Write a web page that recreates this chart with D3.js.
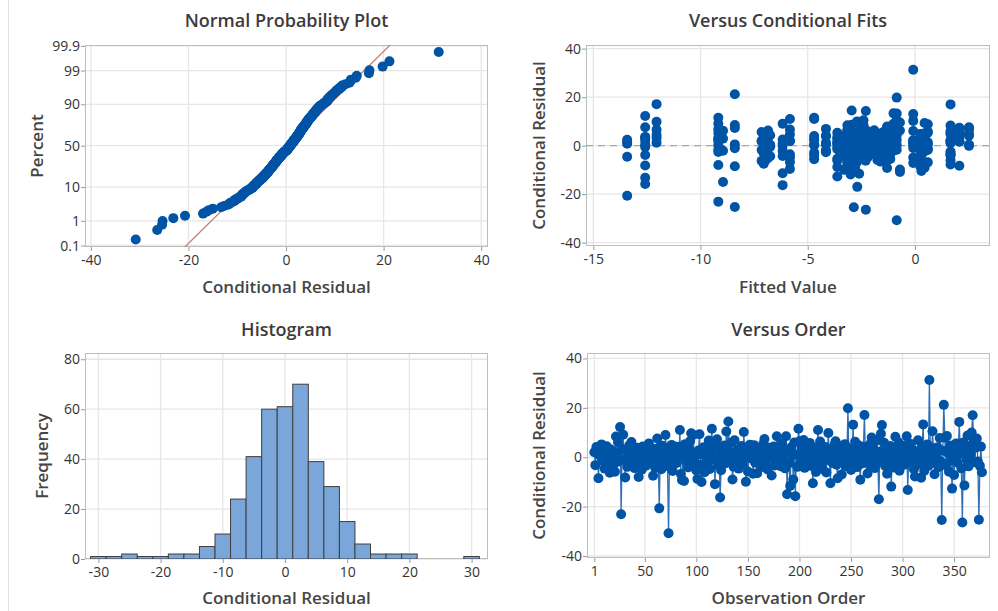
<!DOCTYPE html>
<html>
<head>
<meta charset="utf-8">
<script src="https://cdn.jsdelivr.net/npm/d3@7"></script>
<style>
  body { margin: 0; background: #fff; }
  text { font-family: "Open Sans", "Noto Sans", sans-serif; }
</style>
</head>
<body>
<div id="chart"></div>
<script>
/************************** DATA **************************/

// conditional residuals, in observation order (1..377)
var residuals = [
  2.0, -3.2, 4.1, 1.5, -8.5, 0.8, 3.6, 5.2, -1.4, 2.9, -4.6, 0.3, 4.4, -2.1, 1.9, -6.3, 3.1, -0.6, 2.4, -2.8,
  -5.9, 8.4, 1.2, 6.1, -1.7, 12.2, -23.1, 3.3, 9.1, -0.9, -8.2, 2.6, -3.9, 0.5, 4.8, -2.4, 6.2, -1.1, 2.2, -4.4,
  1.7, -2.6, 3.8, -8.0, 0.2, 2.7, -5.1, 4.3, -1.8, 1.1, -3.4, 3.0, -0.4, 5.6, -2.2, 0.9, 2.5, -7.5, 1.4, -4.3,
  3.4, 7.6, -1.3, -20.7, 2.1, -4.9, 4.6, 0.6, -2.7, 9.0, 1.8, -3.6, -30.8, 2.8, -0.2, 5.0, -5.6, 1.3, -1.9, 3.9,
  -2.3, 4.2, 0.4, 11.0, -6.8, -9.2, 2.3, -9.6, 5.3, -1.5, 0.1, -4.1, 3.2, 6.6, 9.7, -2.9, 9.0, -0.7, 1.6, -5.4,
  -8.8, 2.7, 9.3, -3.0, -10.0, 1.0, 4.0, -6.1, 0.7, 3.5, -2.0, 6.8, -4.8, 2.0, 11.5, -1.0, 5.5, -10.9, 0.0, 7.3,
  -3.1, 3.7, -16.3, -5.3, 1.9, -0.8, 4.7, -2.5, 10.4, 0.6, 14.5, 2.4, -1.2, 5.9, -9.0, -3.8, 6.9, 1.5, -0.3, 3.0,
  -4.6, 2.1, -1.6, 4.5, -2.9, 10.2, 0.5, -9.9, 3.3, -5.8, 1.2, 5.1, -0.5, 2.6, -6.7, 4.9, -2.2, 0.8, -6.5, 3.6,
  -1.9, 2.8, -4.0, 0.3, 5.4, 7.4, -2.6, 1.4, -5.0, 3.9, -0.1, 2.2, -7.4, 0.9, 4.3, -3.3, 1.7, 8.5, -1.4, 2.9,
  0.4, -3.7, 5.7, -1.0, 3.1, -4.5, 8.5, -15.0, 2.0, -2.4, -11.6, 4.0, 0.7, -9.0, 6.0, -15.8, 1.1, -3.9, 11.5, 6.5,
  -2.1, 3.4, -0.6, 7.0, -4.3, 1.6, 4.6, -1.7, 0.2, 5.8, -3.5, 2.5, -10.5, -0.4, 3.8, -6.0, 1.3, 11.0, -2.7, 6.4,
  0.1, -4.7, 2.9, -1.5, 4.1, -6.2, 1.4, 9.8, -0.2, -10.5, 3.2, -2.3, 0.7, 5.0, 6.5, -3.0, -8.5, 1.9, -1.1, 4.4,
  -7.0, 2.4, -0.9, 5.3, -3.6, 1.0, 19.8, -2.8, 3.5, -5.2, 0.5, 13.2, -1.6, 6.3, 2.0, -4.0, 4.9, -0.6, -9.1, 3.0,
  -2.5, 4.2, 17.1, -0.3, 2.6, -6.6, 1.5, -3.1, 5.5, 8.0, -1.2, 3.4, -4.4, 0.6, 6.8, -2.0, -17.0, 2.2, 9.5, 13.0,
  -1.4, 5.9, -3.4, 1.8, -6.7, 3.7, -0.8, 4.5, -11.9, 0.3, -4.2, 2.7, 8.3, -2.6, 1.0, 6.1, -5.5, 0.4, 3.3, -1.8,
  2.1, -3.0, 4.8, 8.5, -13.3, 1.2, -1.9, 5.4, -0.5, 3.0, -4.9, -7.8, 2.3, 0.0, 6.9, -2.7, 1.6, -8.3, 4.2, 13.3,
  -5.6, 2.9, -1.0, 5.2, -3.5, 31.3, 0.8, -2.4, 10.5, 3.6, -6.9, 1.1, -0.7, 4.0, -4.0, 7.8, -1.6, -25.4, 2.6, 21.2,
  7.9, -3.3, 8.6, 1.7, -5.9, 4.7, -1.3, -12.7, 2.8, -7.2, 0.2, 5.6, -2.1, 3.1, 14.3, 1.4, -4.5, -26.4, 6.0, -11.4,
  2.4, -0.9, 8.8, -3.7, 4.4, 0.9, 10.0, 17.0, 6.2, -2.0, 3.9, 7.6, -1.7, -25.3, -3.5, 4.3, -6.1
];

// conditional fitted values, same order
var fittedValues = [
  -7.15, -7.05, -6.95, -13.42, -8.40, -13.42, -12.58, -9.17, -6.85, -8.95, -13.42, -6.75, -12.05, -8.95, -9.17, -7.15, -12.05, -12.58, -13.42, -7.05,
  -6.95, -3.15, -12.05, -8.95, -9.17, -12.58, -9.17, -12.58, -9.17, -2.9, -12.58, -9.17, -12.58, -12.58, -2.7, -2.5, -6.85, -8.40, -12.58, -6.75,
  -7.15, -9.17, -7.05, -9.17, -9.17, -6.95, -6.85, -6.75, -7.15, -7.05, -6.95, -6.85, -6.75, -7.15, -6.17, -6.17, -6.17, -7.05, -2.3, -6.17,
  -3.0, -12.58, -1.6, -13.42, -5.83, -5.83, -5.83, -4.70, -4.15, -6.17, -5.83, -5.83, -0.85, -4.70, -6.17, -2.8, -4.70, -4.15, -4.15, -4.15,
  -4.15, -4.15, -4.15, -5.83, -5.83, -1.3, -4.70, -5.83, -3.62, -3.62, -4.70, -4.70, -9.17, -5.83, -2.6, -4.70, -1.0, -3.62, -3.62, -3.62,
  -3.62, -3.62, 0.45, -2.4, -3.3, -3.62, -4.70, -3.62, -3.62, -3.62, -1.9, -9.17, -2.2, 1.66, -4.70, -0.08, -1.45, -0.7, -3.15, -8.40,
  -1.75, -2.9, -6.17, 0.25, -2.7, -1.15, 2.07, -2.5, -0.85, 0.6, -2.95, -2.05, -3.0, -2.6, -2.8, -1.6, -4.15, -0.08, -2.3, -1.3,
  -3.3, 1.66, -1.9, -2.4, 0.3, -0.08, -8.40, -0.7, -2.2, -1.45, -3.15, 0.45, -2.9, -1.0, -2.7, 2.52, -1.75, -2.5, 0.25, -3.0,
  -1.15, -2.6, 1.66, -1.6, -2.8, 2.07, -2.3, 0.6, -1.3, -3.3, 2.52, -2.05, -3.15, -0.08, -0.85, -2.4, 1.66, -8.40, -2.2, -1.9,
  0.3, -2.9, -1.45, -3.0, 2.07, -2.7, -1.0, -8.95, -2.5, 0.45, -2.6, -1.75, -3.15, -2.8, -0.08, -12.58, -1.15, 1.66, -9.17, -2.3,
  -1.6, -3.3, 0.25, -1.3, -2.4, 2.07, -2.2, -0.85, -3.0, 0.6, -2.05, -2.7, 0.3, -2.9, -1.9, 1.66, -2.5, -4.70, -1.45, -3.15,
  -0.08, -2.6, -1.0, -2.8, 2.52, -2.3, -1.75, -12.05, -3.0, -2.9, 0.45, -1.15, -2.4, -1.6, -12.05, -2.2, 0.25, 2.07, -2.7, -1.3,
  -3.15, -0.85, -2.5, 0.6, -3.3, 1.66, -0.85, -2.6, -2.05, 0.3, -2.8, -0.85, -3.0, -1.9, -0.08, -2.4, 2.07, -1.45, 0.45, -2.2,
  -1.15, -2.9, -12.05, -2.7, 0.25, -1.6, -3.15, 1.66, -1.0, -2.5, 0.6, -2.3, -1.75, -3.3, 2.52, -1.3, -2.69, -0.08, -0.7, -0.08,
  -2.6, -1.9, -2.8, 2.07, -3.0, -1.45, 0.3, -2.4, -3.0, -0.85, -2.2, 0.45, 1.66, -2.05, -2.9, -3.15, -1.15, 2.52, -2.5, 0.6,
  -1.6, -2.7, 0.25, -2.4, -12.58, -1.3, -3.3, 1.66, -1.0, -2.3, -0.08, 1.66, -2.6, -1.75, -3.0, 0.3, -1.9, 2.07, -2.8, -1.0,
  -2.9, -1.45, 0.45, -2.5, -1.15, -0.08, -2.2, 1.66, -2.4, -1.6, 0.6, -3.15, -2.05, 2.07, -2.7, -0.85, 0.25, -2.85, -3.3, -8.40,
  -1.3, -2.6, -2.95, 0.3, -1.75, 1.66, -2.3, -3.62, -1.9, -0.08, -3.0, 2.07, -1.0, -2.8, -2.29, 0.45, -1.6, -2.29, 1.66, -6.17,
  -2.5, -1.15, 0.6, -3.15, 2.07, -1.45, -2.7, 1.66, -0.7, 0.25, -3.3, 2.52, -2.05, -8.40, -2.4, 0.3, -1.3
];

// histogram: bin midpoints (width 2.5) and frequencies
var histMids = [-30, -27.5, -25, -22.5, -20, -17.5, -15, -12.5, -10, -7.5, -5, -2.5,
                0, 2.5, 5, 7.5, 10, 12.5, 15, 17.5, 20, 22.5, 25, 27.5, 30];
var histCounts = [1, 1, 2, 1, 1, 2, 2, 5, 10, 24, 41, 60,
                  61, 70, 39, 29, 15, 6, 2, 2, 2, 0, 0, 0, 1];
var histBinWidth = 2.5;

// tick labels
var probTicks = [0.1, 1, 10, 50, 90, 99, 99.9];
var residTicksNpp = [-40, -20, 0, 20, 40];
var fitTicks = [-15, -10, -5, 0];
var residTicks = [-40, -20, 0, 20, 40];
var histXTicks = [-30, -20, -10, 0, 10, 20, 30];
var freqTicks = [0, 20, 40, 60, 80];
var orderTicks = [1, 50, 100, 150, 200, 250, 300, 350];

/************************** HELPERS **************************/

var BLUE = '#0054a6';
var R = 5; // marker radius

// inverse standard normal cdf (Acklam)
function invNorm(p) {
  var a = [-3.969683028665376e+01, 2.209460984245205e+02, -2.759285104469687e+02, 1.383577518672690e+02, -3.066479806614716e+01, 2.506628277459239e+00];
  var b = [-5.447609879822406e+01, 1.615858368580409e+02, -1.556989798598866e+02, 6.680131188771972e+01, -1.328068155288572e+01];
  var c = [-7.784894002430293e-03, -3.223964580411365e-01, -2.400758277161838e+00, -2.549732539343734e+00, 4.374664141464968e+00, 2.938163982698783e+00];
  var d = [7.784695709041462e-03, 3.224671290700398e-01, 2.445134137142996e+00, 3.754408661907416e+00];
  var pl = 0.02425, q, r;
  if (p < pl) {
    q = Math.sqrt(-2 * Math.log(p));
    return (((((c[0]*q+c[1])*q+c[2])*q+c[3])*q+c[4])*q+c[5]) / ((((d[0]*q+d[1])*q+d[2])*q+d[3])*q+1);
  }
  if (p > 1 - pl) {
    q = Math.sqrt(-2 * Math.log(1 - p));
    return -(((((c[0]*q+c[1])*q+c[2])*q+c[3])*q+c[4])*q+c[5]) / ((((d[0]*q+d[1])*q+d[2])*q+d[3])*q+1);
  }
  q = p - 0.5; r = q * q;
  return (((((a[0]*r+a[1])*r+a[2])*r+a[3])*r+a[4])*r+a[5])*q / (((((b[0]*r+b[1])*r+b[2])*r+b[3])*r+b[4])*r+1);
}

var svg = d3.select('#chart').append('svg')
    .attr('width', 998)
    .attr('height', 611);

// window edge on the left
svg.append('line')
    .attr('x1', 8.5).attr('x2', 8.5).attr('y1', 0).attr('y2', 611)
    .attr('stroke', '#e2e2e2');

// frame, grid, axes, titles for one panel
function panel(cfg) {
  var g = svg.append('g');
  var l = cfg.x.range()[0], r = cfg.x.range()[1];
  var b = cfg.y.range()[0], t = cfg.y.range()[1];

  g.selectAll('.vgrid').data(cfg.xTicks).enter().append('line')
      .attr('x1', function(d){ return cfg.x(d); })
      .attr('x2', function(d){ return cfg.x(d); })
      .attr('y1', t).attr('y2', b)
      .attr('stroke', '#e6e6e6').attr('stroke-width', 1.3);

  g.selectAll('.hgrid').data(cfg.yTicks).enter().append('line')
      .attr('y1', function(d){ return cfg.y(d); })
      .attr('y2', function(d){ return cfg.y(d); })
      .attr('x1', l).attr('x2', r)
      .attr('stroke', '#e6e6e6').attr('stroke-width', 1.3);

  var xa = g.append('g')
      .attr('transform', 'translate(0,' + b + ')')
      .call(d3.axisBottom(cfg.x).tickValues(cfg.xTicks).tickSize(4).tickPadding(4)
        .tickFormat(cfg.xFormat || function(d){ return d; }));
  var ya = g.append('g')
      .attr('transform', 'translate(' + l + ',0)')
      .call(d3.axisLeft(cfg.y).tickValues(cfg.yTicks).tickSize(4).tickPadding(1)
        .tickFormat(cfg.yFormat || function(d){ return d; }));
  [xa, ya].forEach(function(a){
    a.select('.domain').remove();
    a.selectAll('line').attr('stroke', '#9a9a9a');
    a.selectAll('text').attr('fill', '#333').style('font-size', '14px');
  });

  g.append('rect')
      .attr('x', l + 0.5).attr('y', t + 0.5)
      .attr('width', r - l - 1).attr('height', b - t - 1)
      .attr('fill', 'none').attr('stroke', '#bdbdbd');

  var cx = (l + r) / 2, cy = (t + b) / 2;
  g.append('text').text(cfg.title)
      .attr('x', cx).attr('y', cfg.titleY)
      .attr('text-anchor', 'middle')
      .style('font-size', '18px').style('font-weight', 600).attr('fill', '#3b3b3b');
  g.append('text').text(cfg.xLabel)
      .attr('x', cx).attr('y', cfg.xLabelY)
      .attr('text-anchor', 'middle')
      .style('font-size', '17px').style('font-weight', 600).attr('fill', '#454545');
  g.append('text').text(cfg.yLabel)
      .attr('transform', 'translate(' + cfg.yLabelX + ',' + cy + ') rotate(-90)')
      .attr('text-anchor', 'middle')
      .style('font-size', '17px').style('font-weight', 600).attr('fill', '#454545');

  var plot = g.append('g');
  var id = 'clip' + Math.round(l) + '_' + Math.round(t);
  g.append('clipPath').attr('id', id).append('rect')
      .attr('x', l).attr('y', t).attr('width', r - l).attr('height', b - t);
  plot.attr('clip-path', 'url(#' + id + ')');
  return plot;
}

/************************** NORMAL PROBABILITY PLOT **************************/

var n = residuals.length;
var sorted = residuals.slice().sort(d3.ascending);
var nppPoints = sorted.map(function(v, i){
  return { x: v, z: invNorm((i + 1 - 0.3) / (n + 0.4)) };
});
var mean = d3.mean(residuals), sd = d3.deviation(residuals);

var x1 = d3.scaleLinear().domain([-41.2, 41.4]).range([85, 488]);
var y1 = d3.scaleLinear().domain([-3.136, 3.118]).range([247, 45]);
var p1 = panel({
  x: x1, y: y1,
  xTicks: residTicksNpp,
  yTicks: probTicks.map(function(p){ return invNorm(p / 100); }),
  yFormat: function(d, i){ return probTicks[i]; },
  title: 'Normal Probability Plot', titleY: 27,
  xLabel: 'Conditional Residual', xLabelY: 293,
  yLabel: 'Percent', yLabelX: 43
});

p1.append('line')
    .attr('x1', x1(mean + sd * -3.3)).attr('y1', y1(-3.3))
    .attr('x2', x1(mean + sd * 3.3)).attr('y2', y1(3.3))
    .attr('stroke', '#c97c74').attr('stroke-width', 1.3);

p1.selectAll('circle').data(nppPoints).enter().append('circle')
    .attr('cx', function(d){ return x1(d.x); })
    .attr('cy', function(d){ return y1(d.z); })
    .attr('r', R)
    .attr('fill', BLUE);

/************************** VERSUS FITS **************************/

var x2 = d3.scaleLinear().domain([-15.34, 3.5]).range([586, 990]);
var y2 = d3.scaleLinear().domain([-41.4, 41.5]).range([246, 45]);
var p2 = panel({
  x: x2, y: y2, xTicks: fitTicks, yTicks: residTicks,
  title: 'Versus Conditional Fits', titleY: 27,
  xLabel: 'Fitted Value', xLabelY: 293,
  yLabel: 'Conditional Residual', yLabelX: 545
});

p2.append('line')
    .attr('x1', x2.range()[0]).attr('x2', x2.range()[1])
    .attr('y1', y2(0)).attr('y2', y2(0))
    .attr('stroke', '#a6a6a6').attr('stroke-width', 1.3)
    .attr('stroke-dasharray', '7,5');

p2.selectAll('circle').data(residuals).enter().append('circle')
    .attr('cx', function(d, i){ return x2(fittedValues[i]); })
    .attr('cy', function(d){ return y2(d); })
    .attr('r', R)
    .attr('fill', BLUE);

/************************** HISTOGRAM **************************/

var x3 = d3.scaleLinear().domain([-32.15, 32.64]).range([85, 488]);
var y3 = d3.scaleLinear().domain([0, 82.5]).range([559, 353]);
var p3 = panel({
  x: x3, y: y3, xTicks: histXTicks, yTicks: freqTicks,
  title: 'Histogram', titleY: 336,
  xLabel: 'Conditional Residual', xLabelY: 604,
  yLabel: 'Frequency', yLabelX: 48
});

p3.selectAll('rect.bar').data(histMids).enter().append('rect')
    .attr('class', 'bar')
    .attr('x', function(d){ return x3(d - histBinWidth / 2); })
    .attr('width', function(d){ return x3(d + histBinWidth / 2) - x3(d - histBinWidth / 2); })
    .attr('y', function(d, i){ return y3(histCounts[i]); })
    .attr('height', function(d, i){ return y3(0) - y3(histCounts[i]); })
    .attr('fill', '#7ba6d9')
    .attr('stroke', '#3f3f3f').attr('stroke-width', 1);

/************************** VERSUS ORDER **************************/

var x4 = d3.scaleLinear().domain([-6.1, 384.8]).range([587, 990]);
var y4 = d3.scaleLinear().domain([-40.8, 42.2]).range([558, 353]);
var p4 = panel({
  x: x4, y: y4, xTicks: orderTicks, yTicks: residTicks,
  title: 'Versus Order', titleY: 336,
  xLabel: 'Observation Order', xLabelY: 604,
  yLabel: 'Conditional Residual', yLabelX: 545
});

p4.append('path')
    .datum(residuals)
    .attr('d', d3.line()
      .x(function(d, i){ return x4(i + 1); })
      .y(function(d){ return y4(d); }))
    .attr('fill', 'none')
    .attr('stroke', '#2f6fb5').attr('stroke-width', 1.3);

p4.selectAll('circle').data(residuals).enter().append('circle')
    .attr('cx', function(d, i){ return x4(i + 1); })
    .attr('cy', function(d){ return y4(d); })
    .attr('r', R)
    .attr('fill', BLUE);
</script>
</body>
</html>
